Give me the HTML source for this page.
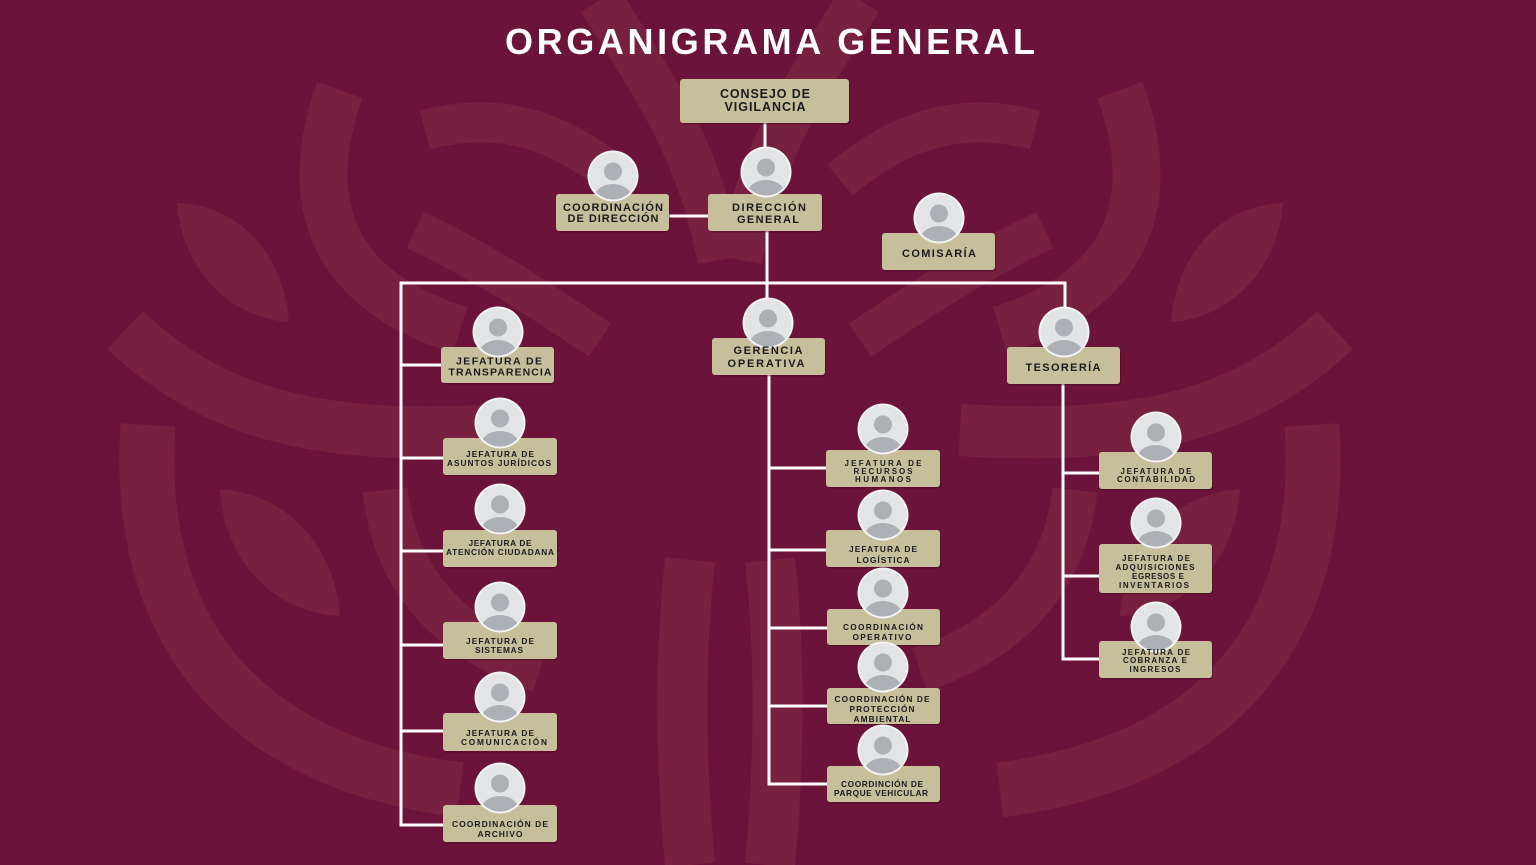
<!DOCTYPE html>
<html>
<head>
<meta charset="utf-8">
<style>
html,body{margin:0;padding:0;background:#6c1339;}
svg{display:block;}
text{font-family:"Liberation Sans",Arial,sans-serif;font-weight:bold;}
</style>
</head>
<body>
<svg width="1536" height="865" viewBox="0 0 1536 865" xmlns="http://www.w3.org/2000/svg">
<defs>
<clipPath id="cc"><circle cx="0" cy="0" r="23.5"/></clipPath>
<g id="av">
 <circle r="25.5" fill="#f4f4f4"/>
 <circle r="23.5" fill="#e3e4e6"/>
 <g clip-path="url(#cc)">
  <circle cx="0" cy="-4.5" r="9" fill="#adb0b4"/>
  <ellipse cx="0" cy="22" rx="19" ry="14" fill="#adb0b4"/>
 </g>
</g>
<g id="pat">
 <path d="M177,203 C245,205 285,262 289,322 C228,318 182,268 177,203 Z" fill="#78203f"/>
 <path d="M220,489 C292,494 336,552 340,616 C272,612 224,560 220,489 Z" fill="#78203f"/>
 <g fill="none" stroke="#78203f">
  <path d="M340,90 C300,200 330,290 460,330" stroke-width="48"/>
  <path d="M125,330 C220,420 330,440 500,430" stroke-width="52"/>
  <path d="M148,425 C135,620 230,760 460,790" stroke-width="55"/>
  <path d="M385,490 C395,580 450,640 540,670" stroke-width="45"/>
  <path d="M690,560 C680,650 680,760 690,865" stroke-width="50"/>
  <path d="M600,0 C650,80 700,150 720,260" stroke-width="45"/>
  <path d="M425,130 C500,110 560,130 620,180" stroke-width="40"/>
  <path d="M415,230 C480,260 540,300 600,340" stroke-width="40"/>
 </g>
</g>
</defs>

<rect width="1536" height="865" fill="#6c1339"/>
<use href="#pat"/>
<use href="#pat" transform="matrix(-1 0 0 1 1460 0)"/>

<!-- Title -->
<text x="770" y="54" font-size="36" fill="#ffffff" text-anchor="middle" textLength="530" lengthAdjust="spacing">ORGANIGRAMA GENERAL</text>

<!-- Connectors -->
<g stroke="#ffffff" stroke-width="3" fill="none">
 <line x1="765" y1="122" x2="765" y2="152"/>
 <line x1="668" y1="216" x2="709" y2="216"/>
 <line x1="767" y1="230" x2="767" y2="305"/>
 <line x1="399.5" y1="283" x2="1066.5" y2="283"/>
 <line x1="401" y1="282" x2="401" y2="826.5"/>
 <line x1="1065" y1="282" x2="1065" y2="312"/>
 <line x1="401" y1="365" x2="442" y2="365"/>
 <line x1="401" y1="458" x2="444" y2="458"/>
 <line x1="401" y1="551" x2="444" y2="551"/>
 <line x1="401" y1="645" x2="444" y2="645"/>
 <line x1="401" y1="731" x2="444" y2="731"/>
 <line x1="399.5" y1="825" x2="444" y2="825"/>
 <line x1="769" y1="374" x2="769" y2="785.5"/>
 <line x1="769" y1="468" x2="827" y2="468"/>
 <line x1="769" y1="550" x2="827" y2="550"/>
 <line x1="769" y1="628" x2="828" y2="628"/>
 <line x1="769" y1="706" x2="828" y2="706"/>
 <line x1="767.5" y1="784" x2="828" y2="784"/>
 <line x1="1063" y1="384" x2="1063" y2="660.5"/>
 <line x1="1063" y1="473" x2="1100" y2="473"/>
 <line x1="1063" y1="576" x2="1100" y2="576"/>
 <line x1="1061.5" y1="659" x2="1100" y2="659"/>
</g>

<!-- Box shadows -->
<g fill="#3e0a20" opacity="0.45">
 <rect x="681" y="80.5" width="169" height="44" rx="3"/>
 <rect x="557" y="195.5" width="113" height="37" rx="3"/>
 <rect x="709" y="195.5" width="114" height="37" rx="3"/>
 <rect x="883" y="234.5" width="113" height="37" rx="3"/>
 <rect x="442" y="348.5" width="113" height="36" rx="3"/>
 <rect x="444" y="439.5" width="114" height="37" rx="3"/>
 <rect x="444" y="531.5" width="114" height="37" rx="3"/>
 <rect x="444" y="623.5" width="114" height="37" rx="3"/>
 <rect x="444" y="714.5" width="114" height="38" rx="3"/>
 <rect x="444" y="806.5" width="114" height="37" rx="3"/>
 <rect x="713" y="339.5" width="113" height="37" rx="3"/>
 <rect x="827" y="451.5" width="114" height="37" rx="3"/>
 <rect x="827" y="531.5" width="114" height="37" rx="3"/>
 <rect x="828" y="610.5" width="113" height="36" rx="3"/>
 <rect x="828" y="689.5" width="113" height="36" rx="3"/>
 <rect x="828" y="767.5" width="113" height="36" rx="3"/>
 <rect x="1008" y="348.5" width="113" height="37" rx="3"/>
 <rect x="1100" y="453.5" width="113" height="37" rx="3"/>
 <rect x="1100" y="545.5" width="113" height="49" rx="3"/>
 <rect x="1100" y="642.5" width="113" height="37" rx="3"/>
</g>

<!-- Boxes -->
<g fill="#c7be9c">
 <rect x="680" y="79" width="169" height="44" rx="3"/>
 <rect x="556" y="194" width="113" height="37" rx="3"/>
 <rect x="708" y="194" width="114" height="37" rx="3"/>
 <rect x="882" y="233" width="113" height="37" rx="3"/>
 <rect x="441" y="347" width="113" height="36" rx="3"/>
 <rect x="443" y="438" width="114" height="37" rx="3"/>
 <rect x="443" y="530" width="114" height="37" rx="3"/>
 <rect x="443" y="622" width="114" height="37" rx="3"/>
 <rect x="443" y="713" width="114" height="38" rx="3"/>
 <rect x="443" y="805" width="114" height="37" rx="3"/>
 <rect x="712" y="338" width="113" height="37" rx="3"/>
 <rect x="826" y="450" width="114" height="37" rx="3"/>
 <rect x="826" y="530" width="114" height="37" rx="3"/>
 <rect x="827" y="609" width="113" height="36" rx="3"/>
 <rect x="827" y="688" width="113" height="36" rx="3"/>
 <rect x="827" y="766" width="113" height="36" rx="3"/>
 <rect x="1007" y="347" width="113" height="37" rx="3"/>
 <rect x="1099" y="452" width="113" height="37" rx="3"/>
 <rect x="1099" y="544" width="113" height="49" rx="3"/>
 <rect x="1099" y="641" width="113" height="37" rx="3"/>
</g>

<!-- Avatars -->
<use href="#av" x="613" y="176"/>
<use href="#av" x="766" y="172"/>
<use href="#av" x="939" y="218"/>
<use href="#av" x="498" y="332"/>
<use href="#av" x="500" y="423"/>
<use href="#av" x="500" y="509"/>
<use href="#av" x="500" y="607"/>
<use href="#av" x="500" y="697"/>
<use href="#av" x="500" y="788"/>
<use href="#av" x="768" y="323"/>
<use href="#av" x="883" y="429"/>
<use href="#av" x="883" y="515"/>
<use href="#av" x="883" y="593"/>
<use href="#av" x="883" y="667"/>
<use href="#av" x="883" y="750"/>
<use href="#av" x="1064" y="332"/>
<use href="#av" x="1156" y="437"/>
<use href="#av" x="1156" y="523"/>
<use href="#av" x="1156" y="627"/>

<!-- Labels -->
<g fill="#1b1b1b" text-anchor="middle">
 <text x="765" y="98" font-size="12.5" textLength="90" lengthAdjust="spacing">CONSEJO DE</text>
 <text x="765" y="111" font-size="12.5" textLength="81" lengthAdjust="spacing">VIGILANCIA</text>

 <text x="613" y="211" font-size="11" textLength="100" lengthAdjust="spacing">COORDINACIÓN</text>
 <text x="613" y="222" font-size="11" textLength="91" lengthAdjust="spacing">DE DIRECCIÓN</text>

 <text x="769" y="211" font-size="11" textLength="74" lengthAdjust="spacing">DIRECCIÓN</text>
 <text x="768" y="223" font-size="11" textLength="62" lengthAdjust="spacing">GENERAL</text>

 <text x="939" y="257" font-size="11" textLength="74" lengthAdjust="spacing">COMISARÍA</text>

 <text x="499" y="364.5" font-size="10.5" textLength="86" lengthAdjust="spacing">JEFATURA DE</text>
 <text x="500" y="375.5" font-size="10.5" textLength="103" lengthAdjust="spacing">TRANSPARENCIA</text>

 <text x="500" y="457" font-size="8.3" textLength="68" lengthAdjust="spacing">JEFATURA DE</text>
 <text x="499" y="466" font-size="8.3" textLength="104" lengthAdjust="spacing">ASUNTOS JURÍDICOS</text>

 <text x="500" y="546" font-size="8.3" textLength="63" lengthAdjust="spacing">JEFATURA DE</text>
 <text x="500" y="555" font-size="8.3" textLength="108" lengthAdjust="spacing">ATENCIÓN CIUDADANA</text>

 <text x="500" y="644" font-size="8.3" textLength="68" lengthAdjust="spacing">JEFATURA DE</text>
 <text x="499" y="653" font-size="8.3" textLength="48" lengthAdjust="spacing">SISTEMAS</text>

 <text x="500" y="736" font-size="8.3" textLength="68" lengthAdjust="spacing">JEFATURA DE</text>
 <text x="504" y="745" font-size="8.3" textLength="86" lengthAdjust="spacing">COMUNICACIÓN</text>

 <text x="500" y="827" font-size="8.5" textLength="96" lengthAdjust="spacing">COORDINACIÓN DE</text>
 <text x="500" y="837" font-size="8.5" textLength="45" lengthAdjust="spacing">ARCHIVO</text>

 <text x="768" y="354" font-size="11" textLength="69" lengthAdjust="spacing">GERENCIA</text>
 <text x="766" y="367" font-size="11" textLength="77" lengthAdjust="spacing">OPERATIVA</text>

 <text x="883" y="466" font-size="8" textLength="77" lengthAdjust="spacing">JEFATURA DE</text>
 <text x="883" y="474" font-size="8" textLength="59" lengthAdjust="spacing">RECURSOS</text>
 <text x="883" y="482" font-size="8" textLength="56" lengthAdjust="spacing">HUMANOS</text>

 <text x="883" y="552" font-size="8.3" textLength="68" lengthAdjust="spacing">JEFATURA DE</text>
 <text x="883" y="563" font-size="8.3" textLength="53" lengthAdjust="spacing">LOGÍSTICA</text>

 <text x="883" y="630" font-size="8.3" textLength="80" lengthAdjust="spacing">COORDINACIÓN</text>
 <text x="882" y="640" font-size="8.3" textLength="59" lengthAdjust="spacing">OPERATIVO</text>

 <text x="882" y="702" font-size="8.3" textLength="95" lengthAdjust="spacing">COORDINACIÓN DE</text>
 <text x="882" y="712" font-size="8.3" textLength="65" lengthAdjust="spacing">PROTECCIÓN</text>
 <text x="882" y="722" font-size="8.3" textLength="57" lengthAdjust="spacing">AMBIENTAL</text>

 <text x="882" y="787" font-size="8.3" textLength="82" lengthAdjust="spacing">COORDINCIÓN DE</text>
 <text x="881" y="796" font-size="8.3" textLength="94" lengthAdjust="spacing">PARQUE VEHICULAR</text>

 <text x="1063" y="371" font-size="11" textLength="75" lengthAdjust="spacing">TESORERÍA</text>

 <text x="1156" y="474" font-size="8" textLength="71" lengthAdjust="spacing">JEFATURA DE</text>
 <text x="1156" y="482" font-size="8" textLength="78" lengthAdjust="spacing">CONTABILIDAD</text>

 <text x="1156" y="561" font-size="8" textLength="68" lengthAdjust="spacing">JEFATURA DE</text>
 <text x="1155" y="570" font-size="8" textLength="79" lengthAdjust="spacing">ADQUISICIONES</text>
 <text x="1158" y="579" font-size="8" textLength="52" lengthAdjust="spacing">EGRESOS E</text>
 <text x="1154" y="588" font-size="8" textLength="70" lengthAdjust="spacing">INVENTARIOS</text>

 <text x="1156" y="655" font-size="8" textLength="68" lengthAdjust="spacing">JEFATURA DE</text>
 <text x="1155" y="663" font-size="8" textLength="64" lengthAdjust="spacing">COBRANZA E</text>
 <text x="1155" y="672" font-size="8" textLength="51" lengthAdjust="spacing">INGRESOS</text>
</g>
</svg>
</body>
</html>
